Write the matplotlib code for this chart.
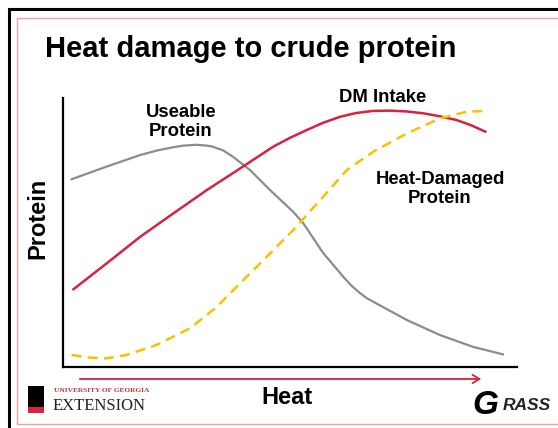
import numpy as np
import matplotlib
matplotlib.use('Agg')
import matplotlib.pyplot as plt
from matplotlib.patches import Rectangle, FancyArrowPatch

# ---------------------------------------------------------------------------
# Curve values (heat 0-100, protein 0-100)
# ---------------------------------------------------------------------------
useable_x = [1.9, 9.6, 17.0, 21.0, 24.3, 26.5, 29.4, 31.7, 33.0, 35.3, 37.4,
             41.2, 45.6, 50.7, 52.9, 57.3, 61.7, 63.5, 65.4, 66.9, 68.3,
             75.7, 83.0, 90.3, 96.9]
useable_y = [69.8, 74.5, 78.8, 80.6, 81.7, 82.3, 82.6, 82.3, 81.9, 80.5, 78.2,
             73.2, 65.8, 57.7, 53.5, 42.4, 33.6, 30.3, 27.5, 25.6, 24.3,
             17.5, 11.9, 7.5, 4.7]

intake_x = [2.3, 9.6, 17.0, 24.3, 31.7, 39.0, 46.3, 50.0, 53.7, 57.3, 61.0,
            64.5, 68.3, 72.0, 75.7, 79.4, 83.0, 86.7, 90.0, 93.0]
intake_y = [28.9, 38.5, 48.4, 57.1, 65.8, 73.8, 81.9, 85.2, 88.1, 90.8, 93.0,
            94.4, 95.2, 95.3, 95.0, 94.3, 93.2, 91.8, 89.8, 87.5]

damaged_x = [1.9, 5.9, 9.6, 14.0, 20.6, 28.0, 33.9, 39.0, 44.9, 50.7,
             57.3, 62.5, 68.3, 75.7, 83.0, 88.9, 93.0]
damaged_y = [4.5, 3.5, 3.2, 4.5, 8.2, 14.4, 22.4, 31.1, 41.0, 50.9,
             63.3, 73.2, 80.0, 86.8, 92.4, 94.9, 95.2]

GRAY = '#8c8c8c'
RED = '#d8223f'
YELLOW = '#f7c200'
PINK = '#e8a4a4'

W, H = 558, 428
FONT = 'Liberation Sans'


def px(x, y):
    """Pixel position (from top-left) to figure fraction."""
    return x / W, 1 - y / H


fig = plt.figure(figsize=(W / 100, H / 100), dpi=100, facecolor='white')

# slide frame: black outer edge on left/top, thin pink inner rule
fig.add_artist(plt.Line2D([9 / W, 9 / W], [0, 1 - 9 / H], color='black', lw=2.2))
fig.add_artist(plt.Line2D([9 / W, 1], [1 - 9 / H, 1 - 9 / H], color='black', lw=2.2))
fig.add_artist(Rectangle(px(17, 424), (W + 10 - 17) / W, (424 - 18) / H,
                         transform=fig.transFigure, fill=False,
                         edgecolor=PINK, lw=1.0))

# title
fig.text(*px(45, 49), 'Heat damage to crude protein', family=FONT,
         fontweight='bold', fontsize=21, va='center', ha='left')

# chart area
left, right, top, bottom = 63, 517, 98, 367
ax = fig.add_axes([left / W, 1 - bottom / H, (right - left) / W, (bottom - top) / H])
ax.plot(useable_x, useable_y, color=GRAY, lw=1.6, solid_joinstyle='round')
ax.plot(intake_x, intake_y, color=RED, lw=1.8, solid_joinstyle='round')
ax.plot(damaged_x, damaged_y, color=YELLOW, lw=1.8, ls=(0, (4, 2.5)))
ax.set_xlim(0, 100)
ax.set_ylim(0, 100)
ax.set_xticks([])
ax.set_yticks([])
for s in ('top', 'right'):
    ax.spines[s].set_visible(False)
for s in ('left', 'bottom'):
    ax.spines[s].set_linewidth(1.6)
    ax.spines[s].set_color('black')

# curve labels
lab = dict(family=FONT, fontweight='bold', fontsize=13.3, ha='center',
           va='center', transform=fig.transFigure, linespacing=1.2)
fig.text(*px(181, 122), 'Useable\nProtein', **lab)
fig.text(*px(383, 98), 'DM Intake', **lab)
fig.text(*px(440, 189), 'Heat-Damaged\nProtein', **lab)

# axis titles
fig.text(*px(38, 218), 'Protein', family=FONT, fontweight='bold',
         fontsize=17, rotation=90, ha='center', va='center')
fig.text(*px(287, 398), 'Heat', family=FONT, fontweight='bold',
         fontsize=17, ha='center', va='center')
fig.add_artist(FancyArrowPatch(px(77, 379), px(484, 379),
                               transform=fig.transFigure,
                               arrowstyle='->,head_length=5,head_width=3',
                               color=RED, lw=1.3))

# UGA Extension mark (approximation of the logo)
fig.add_artist(Rectangle(px(28, 410), 16 / W, 24 / H, transform=fig.transFigure,
                         facecolor='black', edgecolor='none'))
fig.add_artist(Rectangle(px(28, 413), 16 / W, 6 / H, transform=fig.transFigure,
                         facecolor=RED, edgecolor='none'))
fig.text(*px(54, 391), 'UNIVERSITY OF GEORGIA', family='Liberation Serif',
         fontweight='bold', fontsize=5.3, color='#b83a3a', va='center')
fig.text(*px(53, 406), 'EXTENSION', family='Liberation Serif',
         fontsize=12, color='#222222', va='center')

# GRASS mark (approximation of the logo)
fig.text(*px(472, 406), 'G', family=FONT, fontweight='bold', style='italic',
         fontsize=24, color='black', va='center')
fig.text(*px(503, 405), 'RASS', family=FONT, fontweight='bold', style='italic',
         fontsize=12.5, color='#222222', va='center')

fig.savefig('out.png', dpi=100, facecolor='white')
